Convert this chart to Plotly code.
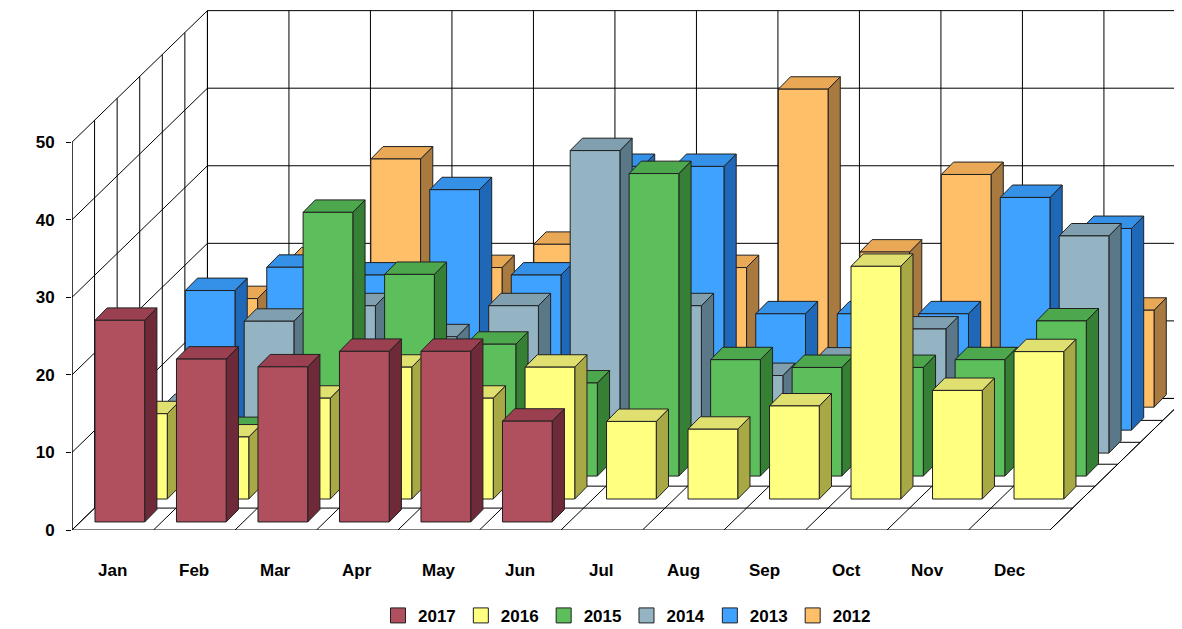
import plotly.graph_objects as go

months = ["Jan", "Feb", "Mar", "Apr", "May", "Jun", "Jul", "Aug", "Sep", "Oct", "Nov", "Dec"]
years = ["2017", "2016", "2015", "2014", "2013", "2012"]
v2017 = [26, 21, 20, 22, 22, 13, 0, 0, 0, 0, 0, 0]
v2016 = [11, 8, 13, 17, 13, 17, 10, 9, 12, 30, 14, 19]
v2015 = [5, 6, 34, 26, 17, 12, 39, 15, 14, 14, 15, 20]
v2014 = [6, 17, 19, 15, 19, 39, 19, 10, 12, 16, 12, 28]
v2013 = [18, 21, 20, 31, 20, 34, 34, 15, 15, 15, 30, 26]
v2012 = [14, 19, 32, 18, 21, 25, 18, 41, 20, 30, 20, 12.5]
series = [v2017, v2016, v2015, v2014, v2013, v2012]
front_cols = ["#B0505F", "#FFFF80", "#5CBF5C", "#94B4C4", "#3FA2FF", "#FFBF69"]
top_cols = ["#9A4050", "#E0E070", "#4DA84D", "#809FAF", "#3590E8", "#E8A855"]
side_cols = ["#6E2A38", "#A8A845", "#358035", "#5A7888", "#1F68B8", "#A87A40"]

DX, DY = 0.277, 2.96      # depth step
BX, BY = 0.15, 1.6        # bar thickness
W, X0 = 0.61, 0.185
BACKX, BACKY = 6 * DX, 6 * DY - 0.8

fig = go.Figure()

# grid / walls
gx, gy = [], []
def seg(a, b):
    gx.extend([a[0], b[0], None]); gy.extend([a[1], b[1], None])
for v in range(0, 51, 10):
    seg((0, v), (BACKX, v + BACKY))
    seg((BACKX, v + BACKY), (12 + BACKX, v + BACKY))
for i in range(13):
    seg((i, 0), (i + BACKX, BACKY))
    seg((i + BACKX, BACKY), (i + BACKX, 50 + BACKY))
for s in range(7):
    ox, oy = s * BACKX / 6, s * BACKY / 6
    seg((ox, oy), (12 + ox, oy))
    seg((ox, oy), (ox, 50 + oy))
seg((0, 0), (0, 50))
seg((12, 0), (12 + BACKX, BACKY))
fig.add_trace(go.Scatter(x=gx, y=gy, mode="lines", line=dict(color="black", width=1),
                         hoverinfo="skip", showlegend=False, cliponaxis=False))

for s in range(5, -1, -1):
    vals = series[s]
    d = s + 0.35
    ox, oy = d * DX, d * DY
    fx, fy, tx, ty, sx, sy = [], [], [], [], [], []
    for i, v in enumerate(vals):
        if v <= 0:
            continue
        a = i + X0 + ox
        b = a + W
        fx += [a, b, b, a, a, None]; fy += [oy, oy, oy + v, oy + v, oy, None]
        tx += [a, b, b + BX, a + BX, a, None]; ty += [oy + v, oy + v, oy + v + BY, oy + v + BY, oy + v, None]
        sx += [b, b + BX, b + BX, b, b, None]; sy += [oy, oy + BY, oy + v + BY, oy + v, oy, None]
    for xx, yy, c in [(sx, sy, side_cols[s]), (tx, ty, top_cols[s]), (fx, fy, front_cols[s])]:
        fig.add_trace(go.Scatter(x=xx, y=yy, mode="lines", fill="toself", fillcolor=c,
                                 line=dict(color="#202020", width=1), showlegend=False,
                                 hoverinfo="skip"))

# legend entries
for s, yr in enumerate(years):
    fig.add_trace(go.Scatter(x=[None], y=[None], mode="markers", name="<b>%s</b>" % yr,
                             marker=dict(symbol="square", size=15, color=front_cols[s],
                                         line=dict(color="#202020", width=1))))

for i, m in enumerate(months):
    fig.add_annotation(x=i + 0.5, xref="x", y=-52 / 522, yref="paper", text="<b>%s</b>" % m,
                       showarrow=False, font=dict(size=17, color="black"))

fig.update_layout(
    width=1182, height=629,
    margin=dict(l=64, r=8, t=0, b=107, autoexpand=False),
    plot_bgcolor="white", paper_bgcolor="white",
    font=dict(family="Liberation Sans, Arial", size=17, color="black"),
    xaxis=dict(range=[0, 13.62], visible=False, fixedrange=True, automargin=False),
    yaxis=dict(range=[0, 67.3], showgrid=False, zeroline=False, tickvals=[0, 10, 20, 30, 40, 50],
               ticktext=["<b>%d</b>" % t for t in range(0, 51, 10)], ticks="outside", ticklen=5,
               tickcolor="black", ticklabelstandoff=8, automargin=False),
    legend=dict(orientation="h", x=0.5, xanchor="center", y=-0.13, yanchor="top",
                font=dict(size=17), traceorder="normal", itemwidth=30, tracegroupgap=0),
    showlegend=True,
)
fig.write_html("out.html")
